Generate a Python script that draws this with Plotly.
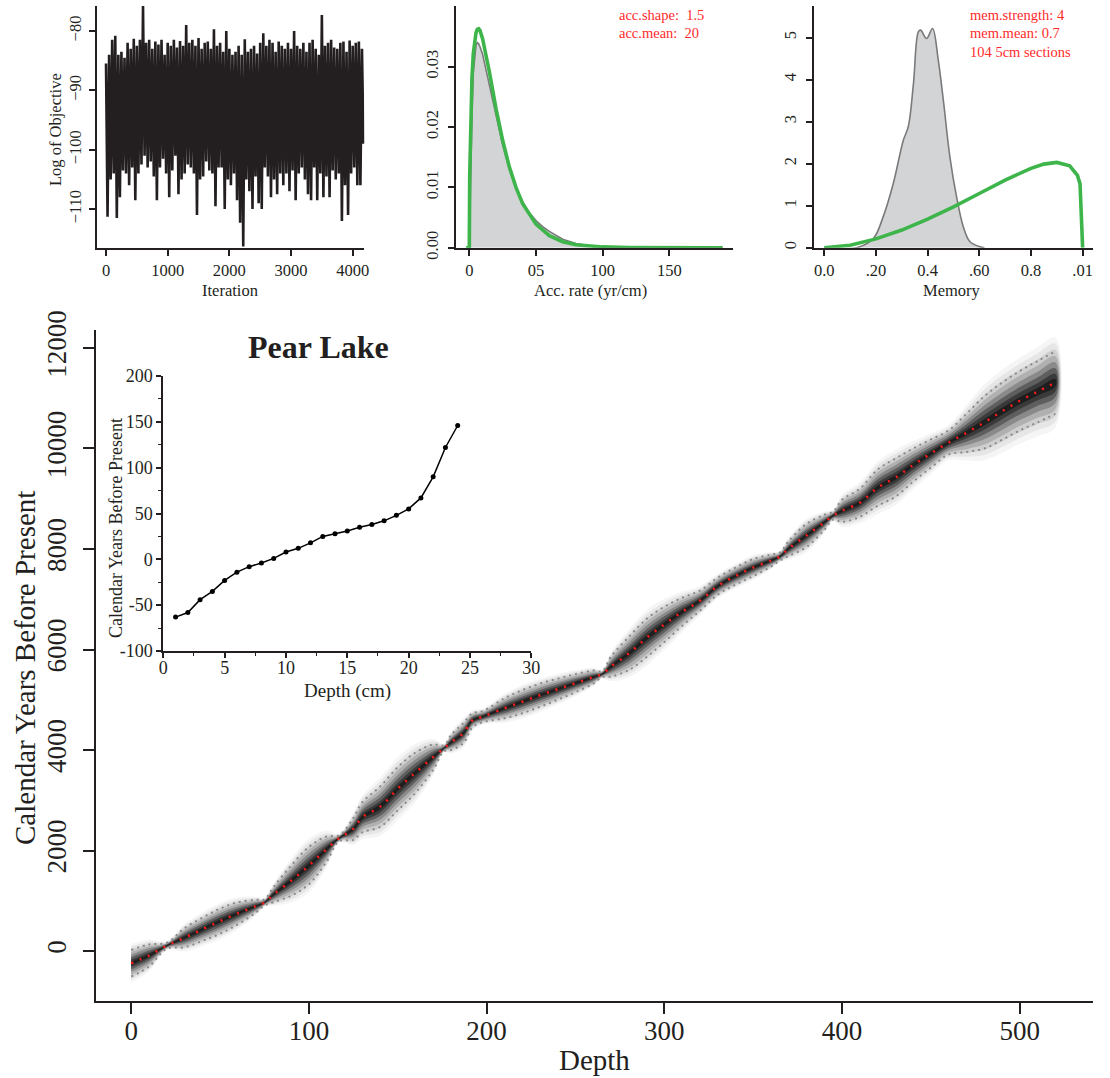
import plotly.graph_objects as go

# ------------------------------------------------------------------ data
# MCMC log-objective trace: upper tips (iterations 0,50,...) and lower tips (25,75,...)
trace_step = 50
logobj_hi = [-85.5, -84, -81.5, -80.8, -84, -83.5, -84.5, -82, -83, -81.3,
             -82.5, -81.5, -75.8, -82, -81.5, -83, -81.8, -82.3, -81.5, -84,
             -82, -82.5, -81.5, -82.8, -81.7, -82.5, -79, -82, -81.5, -82.5,
             -81.2, -83, -82, -81.8, -83, -79.7, -82.5, -82, -83.5, -80,
             -83, -84, -83.5, -82.5, -84, -81.4, -83.5, -83, -82.5, -83.8,
             -82, -80.4, -82.5, -81.5, -82, -83.5, -81.8, -82.5, -83, -82,
             -83, -80, -82.5, -83, -82, -83.5, -82, -81.5, -83, -84,
             -77.3, -82.5, -82, -81.5, -82.8, -83, -82, -81.8, -83.5, -81.6,
             -82.5, -82, -81.8, -83]
logobj_lo = [-111.3, -105, -104, -111.5, -108, -103.5, -104, -106, -103, -108.5,
             -104, -102.5, -101, -103, -102, -104.5, -108.5, -103, -101.5, -104,
             -108, -103.5, -101, -107.5, -105, -104, -102.5, -103, -104, -111,
             -105, -104.5, -102, -103.5, -104, -109.5, -103, -103, -110, -105,
             -106, -104, -108.5, -112.3, -116.3, -105, -107, -110, -104.5, -109,
             -110, -103, -104.5, -108, -105, -107.5, -104, -106, -104, -107,
             -103.5, -108.5, -104, -103, -105, -107.5, -108.5, -103, -108.5, -104,
             -108, -104.5, -108, -103.5, -105, -104, -112, -106, -111, -104,
             -103, -106, -106, -99]

# accumulation rate: posterior (grey) and prior (green)
acc_post_x = [0, 1, 2, 3, 4, 5, 6, 7, 8, 10, 12, 15, 20, 25, 30, 35, 40, 45, 50,
              55, 60, 65, 70, 80, 90, 100, 120, 140, 190]
acc_post_y = [0, 0.012, 0.022, 0.029, 0.032, 0.0335, 0.034, 0.0338, 0.0333, 0.032,
              0.030, 0.027, 0.0218, 0.0170, 0.0130, 0.0100, 0.0076, 0.0058, 0.0045,
              0.0035, 0.0027, 0.0020, 0.0014, 0.0007, 0.0003, 0.0001, 0.00003, 0, 0]
acc_prior_x = [-2.5, 0, 0.3, 1, 2, 3, 4, 5, 6, 7, 8, 10, 12, 15, 20, 25, 30, 35, 40,
               50, 60, 70, 80, 100, 120, 150, 190]
acc_prior_y = [0, 0, 0.012, 0.0215, 0.0282, 0.0322, 0.0344, 0.0356, 0.0362, 0.0363,
               0.0360, 0.0346, 0.0324, 0.0292, 0.0231, 0.0178, 0.0134, 0.0100, 0.0073,
               0.0039, 0.0020, 0.0010, 0.0005, 0.00013, 0.00003, 0, 0]

# memory: posterior (grey) and prior (green)
mem_post_x = [0.0, 0.125, 0.19, 0.228, 0.267, 0.306, 0.325, 0.345, 0.364, 0.373,
              0.396, 0.419, 0.441, 0.461, 0.486, 0.512, 0.538, 0.564, 0.603, 0.62]
mem_post_y = [0, 0, 0.22, 0.74, 1.53, 2.56, 2.88, 3.9, 5.14, 5.18,
              4.98, 5.22, 4.47, 3.5, 2.17, 1.21, 0.5, 0.14, 0.02, 0]
mem_prior_x = [0.0, 0.1, 0.2, 0.3, 0.4, 0.5, 0.6, 0.7, 0.8, 0.85, 0.9, 0.95, 0.98, 0.99, 1.0]
mem_prior_y = [0, 0.06, 0.21, 0.42, 0.68, 0.97, 1.29, 1.61, 1.89, 1.99, 2.03, 1.95,
               1.72, 1.52, 0]

# age-depth model
depth = [0, 10, 20, 30, 40, 50, 60, 70, 75, 80,
         90, 100, 110, 117, 125, 130, 140, 150, 160, 170,
         176, 180, 187, 192, 198, 210, 220, 230, 240, 250,
         260, 265, 270, 280, 290, 300, 310, 320, 330, 340,
         350, 360, 365, 370, 380, 390, 395, 400, 410, 420,
         430, 440, 450, 460, 470, 480, 490, 500, 510, 520]
age_mean = [-245, -90, 105, 265, 430, 595, 750, 890, 965, 1120,
            1400, 1700, 2030, 2245, 2430, 2660, 2870, 3230, 3550, 3860,
            4035, 4150, 4340, 4590, 4665, 4830, 4960, 5090, 5210, 5330,
            5450, 5510, 5660, 5920, 6230, 6500, 6750, 6970, 7260, 7460,
            7630, 7770, 7850, 8010, 8270, 8530, 8665, 8760, 8920, 9220,
            9420, 9670, 9900, 10120, 10310, 10520, 10740, 10950, 11130, 11310]
age_ci95 = [265, 220, 60, 190, 230, 250, 220, 130, 60, 150,
            300, 370, 250, 60, 220, 300, 400, 430, 400, 250,
            60, 150, 200, 140, 110, 200, 230, 230, 210, 180,
            130, 60, 200, 330, 380, 350, 280, 200, 170, 170,
            170, 120, 80, 150, 230, 150, 80, 220, 280, 360,
            380, 330, 280, 240, 380, 520, 570, 590, 610, 620]

# inset: top of core
inset_depth = list(range(1, 25))
inset_age = [-63, -58, -44, -35, -23, -14, -8, -4, 1, 8, 12, 18, 25, 28, 31, 35,
             38, 42, 48, 55, 67, 90, 122, 146]

# ------------------------------------------------------------------ style
W, H = 1110, 1078
FONT = "Liberation Serif, Times New Roman, serif"
INK = "#231f20"
RED = "#ff2a2a"
GREEN = "#3db54a"


def PX(x):
    return x / W


def PY(y):
    return 1 - y / H


fig = go.Figure()

# ---- MCMC trace
tx, ty = [], []
for i, (h, l) in enumerate(zip(logobj_hi, logobj_lo)):
    tx += [i * trace_step, i * trace_step + trace_step / 2]
    ty += [h, l]
fig.add_trace(go.Scatter(x=tx, y=ty, mode="lines", line=dict(color=INK, width=2.6),
                         xaxis="x2", yaxis="y2", hoverinfo="skip"))

# ---- accumulation rate
fig.add_trace(go.Scatter(x=acc_post_x, y=acc_post_y, mode="lines", fill="tozeroy",
                         fillcolor="#d3d4d6", line=dict(color="#7a7a7a", width=1.6),
                         xaxis="x3", yaxis="y3", hoverinfo="skip"))
fig.add_trace(go.Scatter(x=acc_prior_x, y=acc_prior_y, mode="lines",
                         line=dict(color=GREEN, width=3.6), xaxis="x3", yaxis="y3",
                         hoverinfo="skip"))

# ---- memory
fig.add_trace(go.Scatter(x=mem_post_x, y=mem_post_y, mode="lines", fill="tozeroy",
                         line_shape="spline",
                         fillcolor="#d3d4d6", line=dict(color="#7a7a7a", width=1.6),
                         xaxis="x4", yaxis="y4", hoverinfo="skip"))
fig.add_trace(go.Scatter(x=mem_prior_x, y=mem_prior_y, mode="lines",
                         line=dict(color=GREEN, width=3.6), xaxis="x4", yaxis="y4",
                         hoverinfo="skip"))

# ---- age-depth grey-scale band (nested envelopes, light to dark)
levels = [(1.45, "#f5f5f5"), (1.25, "#e6e6e6"), (1.05, "#cfcfcf"), (0.85, "#b0b0b0"),
          (0.65, "#8a8a8a"), (0.46, "#5e5e5e"), (0.28, "#3a3a3a"), (0.12, "#1e1e1e")]
for k, col in levels:
    up = [m + k * e for m, e in zip(age_mean, age_ci95)]
    lo = [m - k * e for m, e in zip(age_mean, age_ci95)]
    fig.add_trace(go.Scatter(x=depth + depth[::-1], y=up + lo[::-1], mode="lines",
                             fill="toself", fillcolor=col, line=dict(width=0),
                             line_shape="spline", xaxis="x", yaxis="y", hoverinfo="skip"))
for sgn in (1, -1):
    fig.add_trace(go.Scatter(x=depth, y=[m + sgn * e for m, e in zip(age_mean, age_ci95)],
                             mode="lines", line_shape="spline",
                             line=dict(color="#8a8a8a", width=2, dash="2px,4px"),
                             xaxis="x", yaxis="y", hoverinfo="skip"))
fig.add_trace(go.Scatter(x=depth, y=age_mean, mode="lines", line_shape="spline",
                         line=dict(color="#ff1a1a", width=2.5, dash="2px,7px"),
                         xaxis="x", yaxis="y", hoverinfo="skip"))

# ---- inset
fig.add_trace(go.Scatter(x=inset_depth, y=inset_age, mode="lines+markers",
                         line=dict(color="black", width=1.5),
                         marker=dict(color="black", size=5),
                         xaxis="x5", yaxis="y5", hoverinfo="skip"))


def axis(domain, rng, tickvals, ticktext=None, anchor=None, size=15, ticklen=6,
         tickangle=0, standoff=2, minor=None):
    d = dict(domain=domain, range=rng, tickmode="array", tickvals=tickvals,
             ticktext=ticktext if ticktext is not None else [str(v) for v in tickvals],
             showline=True, linecolor=INK, linewidth=2, ticks="outside",
             ticklen=ticklen, tickwidth=2, tickcolor=INK, showgrid=False,
             zeroline=False, anchor=anchor, tickangle=tickangle, automargin=False,
             ticklabelstandoff=standoff, fixedrange=True,
             tickfont=dict(family=FONT, size=size, color=INK))
    if minor:
        d["minor"] = minor
    return d


fig.update_layout(
    width=W, height=H, margin=dict(l=0, r=0, t=0, b=0, autoexpand=False),
    paper_bgcolor="white", plot_bgcolor="white", showlegend=False,
    # main
    xaxis=axis([PX(96), PX(1093)], [-19.8, 541.2], [0, 100, 200, 300, 400, 500],
               anchor="y", size=27, ticklen=11, standoff=-6),
    yaxis=axis([PY(1001), PY(330)], [-995, 12358], [0, 2000, 4000, 6000, 8000, 10000, 12000],
               anchor="x", size=27, ticklen=11, tickangle=-90, standoff=6),
    # trace
    xaxis2=axis([PX(96.7), PX(364.3)], [-151, 4188], [0, 1000, 2000, 3000, 4000],
                anchor="y2", size=16.5, standoff=0),
    yaxis2=axis([PY(247.7), PY(6)], [-116.5, -75.8], [-110, -100, -90, -80],
                ticktext=["\u2212110", "\u2212100", "\u221290", "\u221280"],
                anchor="x2", size=16.5, tickangle=-90, standoff=1),
    # acc
    xaxis3=axis([PX(456), PX(732.7)], [-9.98, 197.5], [0, 50, 100, 150],
                ticktext=["0", "05", "100", "150"], anchor="y3", size=16.5, standoff=0),
    yaxis3=axis([PY(247.7), PY(6)], [0, 0.04005], [0, 0.01, 0.02, 0.03],
                ticktext=["0.00", "0.01", "0.02", "0.03"], anchor="x3", size=16.5,
                tickangle=-90, standoff=3),
    # memory
    xaxis4=axis([PX(814), PX(1092.7)], [-0.0399, 1.039], [0, 0.2, 0.4, 0.6, 0.8, 1.0],
                ticktext=["0.0", ".20", "0.4", ".60", "0.8", ".01"], anchor="y4",
                size=16.5, standoff=0),
    yaxis4=axis([PY(247.7), PY(6)], [0, 5.755], [0, 1, 2, 3, 4, 5], anchor="x4",
                size=16.5, tickangle=-90, standoff=3),
    # inset
    xaxis5=axis([PX(163.3), PX(531.3)], [0, 30], [0, 5, 10, 15, 20, 25, 30],
                anchor="y5", size=18, ticklen=5, standoff=-6,
                minor=dict(dtick=2.5, ticks="outside", ticklen=3, tickwidth=1,
                           tickcolor=INK)),
    yaxis5=axis([PY(651), PY(376)], [-100, 200], [-100, -50, 0, 50, 100, 150, 200],
                anchor="x5", size=18, ticklen=5, standoff=0,
                minor=dict(dtick=25, ticks="outside", ticklen=3, tickwidth=1,
                           tickcolor=INK)),
)

ann = []


def text(x, y, s, size, color=INK, angle=0, xanchor="center", bold=False):
    ann.append(dict(x=PX(x), y=PY(y), xref="paper", yref="paper", text=(f"<b>{s}</b>" if bold else s),
                    showarrow=False, textangle=angle, xanchor=xanchor, yanchor="middle",
                    font=dict(family=FONT, size=size, color=color)))


text(230, 290, "Iteration", 16.5)
text(55, 130, "Log of Objective", 16.5, angle=-90)
text(590, 290, "Acc. rate (yr/cm)", 16.5)
text(952, 290, "Memory", 16.5)
text(617, 15, "acc.shape:  1.5", 14.5, RED, xanchor="left")
text(617, 33, "acc.mean:  20", 14.5, RED, xanchor="left")
text(968, 15, "mem.strength: 4", 14.5, RED, xanchor="left")
text(968, 33, "mem.mean: 0.7", 14.5, RED, xanchor="left")
text(968, 51.5, "104 5cm sections", 14.5, RED, xanchor="left")
text(594, 1060, "Depth", 29)
text(25, 668, "Calendar Years Before Present", 29, angle=-90)
text(347, 691, "Depth (cm)", 19)
text(116, 528, "Calendar Years Before Present", 18, angle=-90)
text(318, 347, "Pear Lake", 32, bold=True)

fig.update_layout(annotations=ann)
fig.write_html("out.html")
